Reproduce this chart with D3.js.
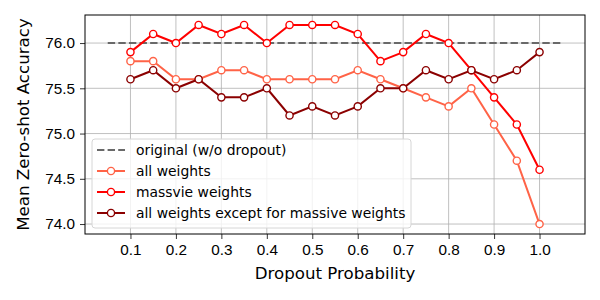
<!DOCTYPE html>
<html>
<head>
<meta charset="utf-8">
<script src="https://cdn.jsdelivr.net/npm/d3@7"></script>
<style>
  body { margin: 0; background: #fff; }
  svg { font-family: "DejaVu Sans", sans-serif; }
  .tick text { font-size: 15.3px; fill: #000; }
</style>
</head>
<body>
<div id="chart"></div>
<script>
// dropout probabilities
const probs = [0.1, 0.15, 0.2, 0.25, 0.3, 0.35, 0.4, 0.45, 0.5, 0.55, 0.6, 0.65, 0.7, 0.75, 0.8, 0.85, 0.9, 0.95, 1.0];
const allWeights = [75.8, 75.8, 75.6, 75.6, 75.7, 75.7, 75.6, 75.6, 75.6, 75.6, 75.7, 75.6, 75.5, 75.4, 75.3, 75.5, 75.1, 74.7, 74.0];
const massiveWeights = [75.9, 76.1, 76.0, 76.2, 76.1, 76.2, 76.0, 76.2, 76.2, 76.2, 76.1, 75.8, 75.9, 76.1, 76.0, 75.7, 75.4, 75.1, 74.6];
const exceptMassive = [75.6, 75.7, 75.5, 75.6, 75.4, 75.4, 75.5, 75.2, 75.3, 75.2, 75.3, 75.5, 75.5, 75.7, 75.6, 75.7, 75.6, 75.7, 75.9];
const baseline = 76.0;
const baselineRange = [0.05, 1.05];
const xTicks = [0.1, 0.2, 0.3, 0.4, 0.5, 0.6, 0.7, 0.8, 0.9, 1.0];
const yTicks = [74.0, 74.5, 75.0, 75.5, 76.0];

const series = [
  {name: 'all weights', values: allWeights, color: 'tomato'},
  {name: 'massvie weights', values: massiveWeights, color: 'red'},
  {name: 'all weights except for massive weights', values: exceptMassive, color: 'darkred'}
];

const W = 600, H = 300;
const margin = {top: 15, right: 15, bottom: 66, left: 85};
const width = W - margin.left - margin.right;
const height = H - margin.top - margin.bottom;

const svg = d3.select('#chart').append('svg')
  .attr('width', W)
  .attr('height', H);

const g = svg.append('g')
  .attr('transform', `translate(${margin.left}, ${margin.top})`);

const x = d3.scaleLinear().domain([0.0, 1.1]).range([0, width]);
const y = d3.scaleLinear().domain([73.89, 76.31]).range([height, 0]);

// grid
g.append('g').selectAll('line').data(xTicks).join('line')
  .attr('x1', d => x(d)).attr('x2', d => x(d))
  .attr('y1', 0).attr('y2', height)
  .attr('stroke', '#b0b0b0').attr('stroke-width', 0.8);
g.append('g').selectAll('line').data(yTicks).join('line')
  .attr('y1', d => y(d)).attr('y2', d => y(d))
  .attr('x1', 0).attr('x2', width)
  .attr('stroke', '#b0b0b0').attr('stroke-width', 0.8);

// axes
const xAxis = g.append('g')
  .attr('transform', `translate(0, ${height})`)
  .call(d3.axisBottom(x).tickValues(xTicks).tickFormat(d3.format('.1f')).tickSize(5).tickPadding(5));
const yAxis = g.append('g')
  .call(d3.axisLeft(y).tickValues(yTicks).tickFormat(d3.format('.1f')).tickSize(5).tickPadding(5));
[xAxis, yAxis].forEach(a => {
  a.select('.domain').remove();
  a.selectAll('.tick line').attr('stroke', '#000').attr('stroke-width', 0.8);
});

// baseline
g.append('line')
  .attr('x1', x(baselineRange[0])).attr('x2', x(baselineRange[1]))
  .attr('y1', y(baseline)).attr('y2', y(baseline))
  .attr('stroke', 'dimgray').attr('stroke-width', 2)
  .attr('stroke-dasharray', '7.4,3.2');

const line = d3.line()
  .x((d, i) => x(probs[i]))
  .y(d => y(d));

series.forEach(s => {
  g.append('path')
    .datum(s.values)
    .attr('fill', 'none')
    .attr('stroke', s.color)
    .attr('stroke-width', 2)
    .attr('d', line);
  g.append('g').selectAll('circle').data(s.values).join('circle')
    .attr('cx', (d, i) => x(probs[i]))
    .attr('cy', d => y(d))
    .attr('r', 3.6)
    .attr('fill', '#fff')
    .attr('stroke', s.color)
    .attr('stroke-width', 1.4);
});

// frame
g.append('rect')
  .attr('width', width).attr('height', height)
  .attr('fill', 'none').attr('stroke', '#000').attr('stroke-width', 1);

// legend
const legend = g.append('g').attr('transform', 'translate(7, 124)');
legend.append('rect')
  .attr('width', 319).attr('height', 89)
  .attr('rx', 3)
  .attr('fill', 'rgba(255,255,255,0.8)')
  .attr('stroke', '#d6d6d6');
const legendItems = [{name: 'original (w/o dropout)', color: 'dimgray', dashed: true}].concat(series);
legendItems.forEach((it, i) => {
  const ly = 11 + i * 21;
  legend.append('line')
    .attr('x1', 5).attr('x2', 33)
    .attr('y1', ly).attr('y2', ly)
    .attr('stroke', it.color)
    .attr('stroke-width', 2)
    .attr('stroke-dasharray', it.dashed ? '7.4,3.2' : null);
  if (!it.dashed) {
    legend.append('circle')
      .attr('cx', 19).attr('cy', ly).attr('r', 3.6)
      .attr('fill', '#fff').attr('stroke', it.color).attr('stroke-width', 1.4);
  }
  legend.append('text')
    .attr('x', 44).attr('y', ly)
    .attr('dy', '0.35em')
    .attr('font-size', 13.9)
    .text(it.name);
});

// axis labels
svg.append('text')
  .attr('x', margin.left + width / 2).attr('y', 279)
  .attr('text-anchor', 'middle')
  .attr('font-size', 16.67)
  .text('Dropout Probability');
svg.append('text')
  .attr('transform', `translate(29, ${margin.top + height / 2}) rotate(-90)`)
  .attr('text-anchor', 'middle')
  .attr('font-size', 16.67)
  .text('Mean Zero-shot Accuracy');
</script>
</body>
</html>
